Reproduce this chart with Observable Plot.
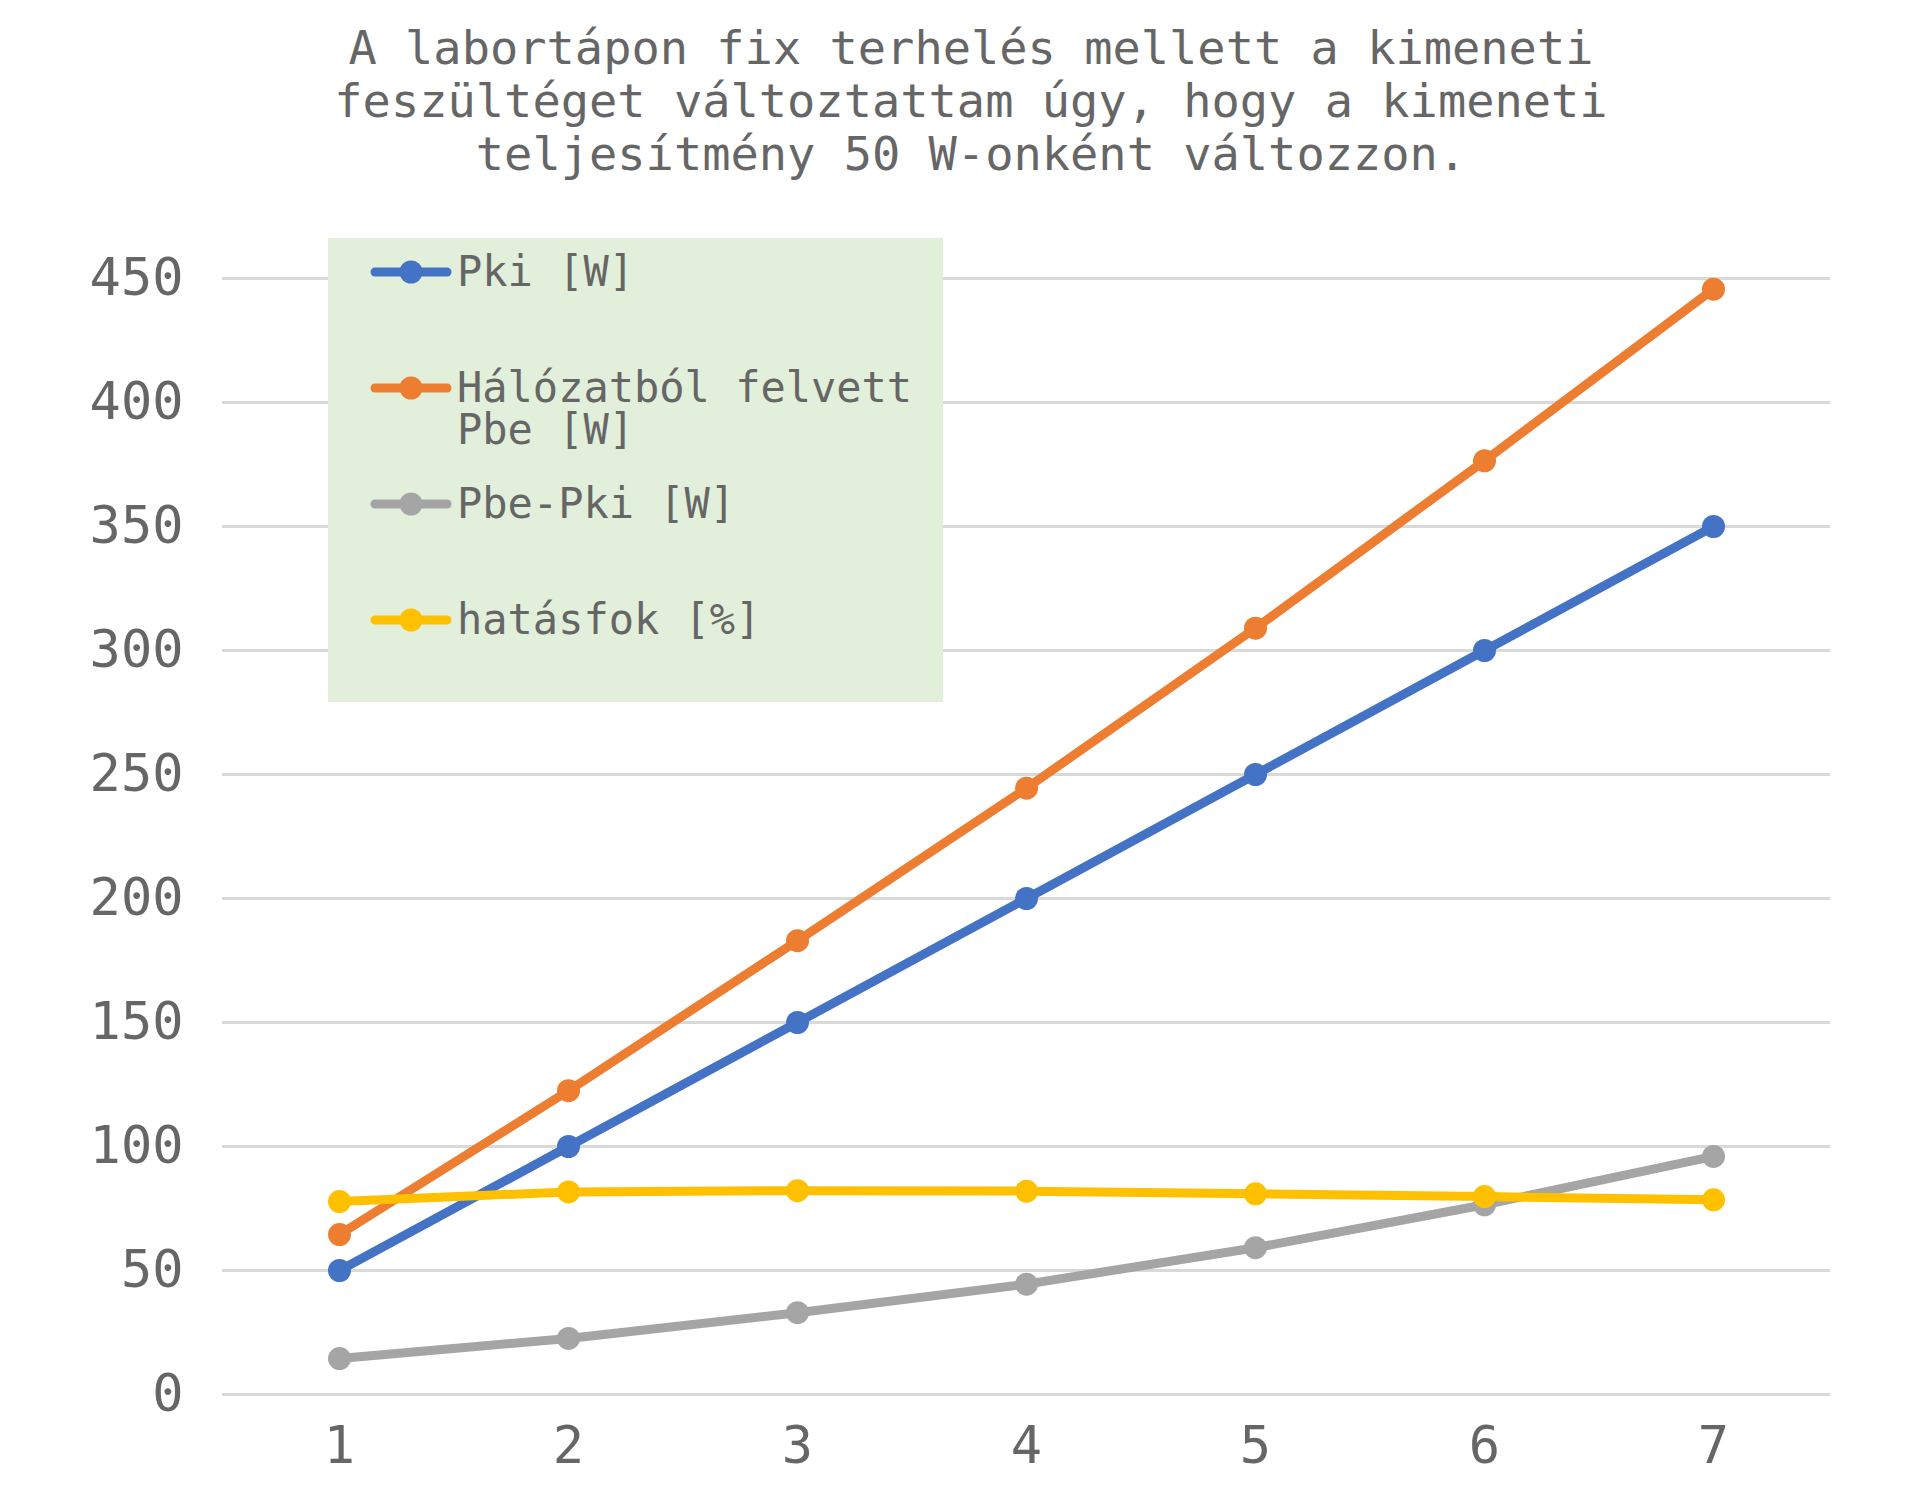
<!DOCTYPE html>
<html><head><meta charset="utf-8">
<script src="https://cdn.jsdelivr.net/npm/d3@7"></script>
<script src="https://cdn.jsdelivr.net/npm/@observablehq/plot@0.6"></script>
<style>
body{margin:0;background:#fff;}
#wrap{position:relative;width:1920px;height:1501px;overflow:hidden;font-family:"DejaVu Sans Mono",monospace;color:#666;}
#title{height:220px;box-sizing:border-box;padding:21px 0 0 22px;text-align:center;font-size:47px;line-height:53px;}
#chart svg{display:block;}
#legend{position:absolute;left:328px;top:238px;width:615px;height:464px;background:#e2efda;box-sizing:border-box;padding-top:13px;}
.item{height:116px;display:flex;align-items:flex-start;}
.sw{margin-left:42px;width:82px;height:42px;flex:none;display:block;}
.lab{margin-left:5px;width:480px;font-size:42px;line-height:42px;}
</style></head><body>
<div id="wrap"><div id="title"></div><div id="chart"></div><div id="legend"></div></div>
<script>
const titleLines = ["A labortápon fix terhelés mellett a kimeneti", "feszültéget változtattam úgy, hogy a kimeneti", "teljesítmény 50 W-onként változzon."];
const xValues = [1, 2, 3, 4, 5, 6, 7];
const seriesNames = ["Pki [W]", "Hálózatból felvett Pbe [W]", "Pbe-Pki [W]", "hatásfok [%]"];
const seriesColors = ["#4472c4", "#ed7d31", "#a5a5a5", "#ffc000"];
const pki = [50, 100, 150, 200, 250, 300, 350];
const pbe = [64.5, 122.5, 183, 244.5, 309, 376.5, 445.7];
const loss = [14.5, 22.6, 33.0, 44.5, 59.2, 76.5, 96.0];
const eff = [77.8, 81.7, 82.2, 82.0, 80.9, 79.8, 78.5];
const yTicks = [0, 50, 100, 150, 200, 250, 300, 350, 400, 450];

// title
const t = document.getElementById("title");
titleLines.forEach(l => { const d = document.createElement("div"); d.textContent = l; t.appendChild(d); });

// data table
const seriesValues = [pki, pbe, loss, eff];
const data = [];
seriesValues.forEach((vals, i) => vals.forEach((v, j) => data.push({series: seriesNames[i], x: xValues[j], y: v})));

const marks = [Plot.ruleY(yTicks, {stroke: "#d9d9d9", strokeWidth: 3})];
seriesNames.forEach((s, i) => {
  const d = data.filter(r => r.series === s);
  marks.push(Plot.line(d, {x: "x", y: "y", stroke: seriesColors[i], strokeWidth: 9}));
  marks.push(Plot.dot(d, {x: "x", y: "y", r: 11.5, fill: seriesColors[i]}));
});

const chart = Plot.plot({
  width: 1920, height: 1281,
  marginTop: 58, marginBottom: 107, marginLeft: 222, marginRight: 90,
  x: {type: "point", domain: xValues, padding: 0.5, tickSize: 0, tickPadding: 32, label: null},
  y: {domain: [0, 450], ticks: yTicks, tickSize: 0, tickPadding: 39, label: null},
  style: {fontFamily: "DejaVu Sans Mono", fontSize: "52px", color: "#666", background: "transparent"},
  marks
});
document.getElementById("chart").appendChild(chart);

// legend
const lg = document.getElementById("legend");
seriesNames.forEach((s, i) => {
  const it = document.createElement("div"); it.className = "item";
  const ns = "http://www.w3.org/2000/svg";
  const sv = document.createElementNS(ns, "svg"); sv.setAttribute("class", "sw"); sv.setAttribute("width", 82); sv.setAttribute("height", 42);
  const ln = document.createElementNS(ns, "line");
  ln.setAttribute("x1", 5); ln.setAttribute("x2", 77); ln.setAttribute("y1", 21); ln.setAttribute("y2", 21);
  ln.setAttribute("stroke", seriesColors[i]); ln.setAttribute("stroke-width", 9); ln.setAttribute("stroke-linecap", "round");
  const c = document.createElementNS(ns, "circle");
  c.setAttribute("cx", 41); c.setAttribute("cy", 21); c.setAttribute("r", 11.5); c.setAttribute("fill", seriesColors[i]);
  sv.appendChild(ln); sv.appendChild(c);
  const lab = document.createElement("div"); lab.className = "lab"; lab.textContent = s;
  it.appendChild(sv); it.appendChild(lab); lg.appendChild(it);
});
</script></body></html>
